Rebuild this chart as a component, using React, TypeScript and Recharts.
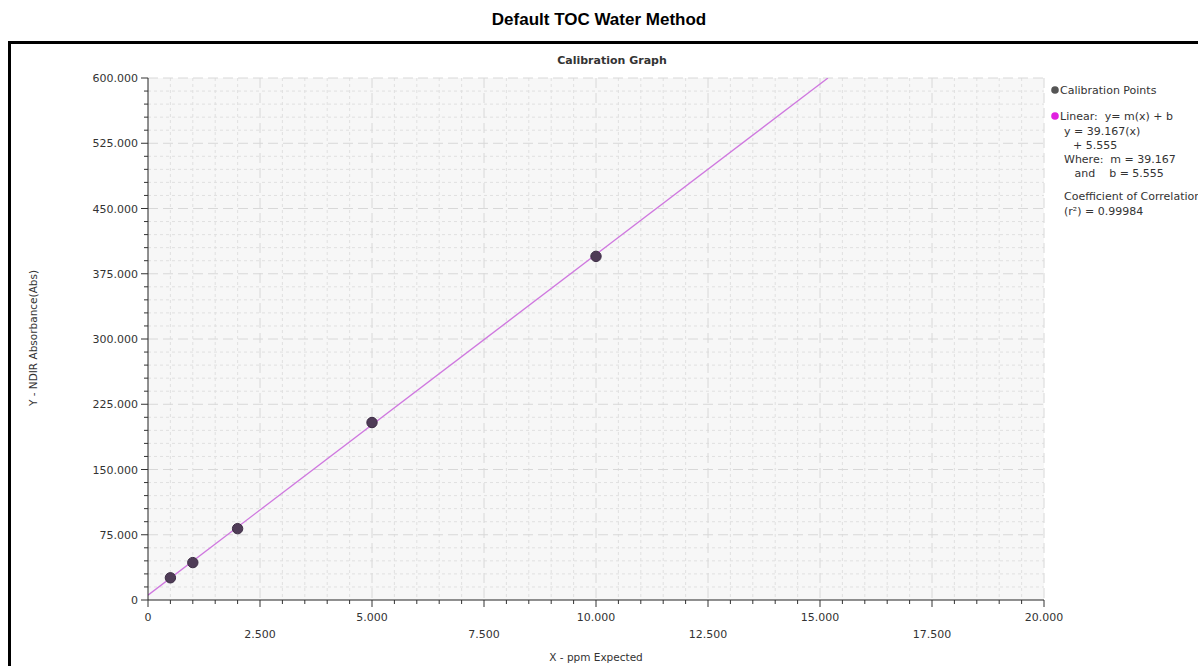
import React from 'react';
import {
  ComposedChart,
  Scatter,
  Line,
  XAxis,
  YAxis,
  CartesianGrid,
} from 'recharts';

// calibration standards
const pointX = [0.5, 1, 2, 5, 10];
const pointY = [25.5, 43, 82, 204, 395];

// fitted line y = 39.167x + 5.555, drawn to the top of the plot
const fitX = [0, 15.177];
const fitY = [5.555, 600];

const xMajorTicks = [0, 2.5, 5, 7.5, 10, 12.5, 15, 17.5, 20];
const yMajorTicks = [0, 75, 150, 225, 300, 375, 450, 525, 600];
const minorDivisions = 5;

const legendItems = [
  { text: 'Calibration Points', dot: '#555555', indent: 0 },
  { text: 'Linear:  y= m(x) + b', dot: '#e020e0', indent: 0 },
  { text: 'y = 39.167(x)', dot: null, indent: 4 },
  { text: '+ 5.555', dot: null, indent: 13 },
  { text: 'Where:  m = 39.167', dot: null, indent: 4 },
  { text: '   and    b = 5.555', dot: null, indent: 4 },
  { text: 'Coefficient of Correlation', dot: null, indent: 4 },
  { text: '(r²) = 0.99984', dot: null, indent: 4 },
];
const legendRows = [90, 116, 130.5, 145, 159, 173, 196, 210.5];

const withMinors = (majors: number[]) => {
  const out: number[] = [];
  majors.forEach((m, i) => {
    out.push(m);
    if (i < majors.length - 1) {
      const step = (majors[i + 1] - m) / minorDivisions;
      for (let k = 1; k < minorDivisions; k++) out.push(m + step * k);
    }
  });
  return out;
};

const xAllTicks = withMinors(xMajorTicks);
const yAllTicks = withMinors(yMajorTicks);
const xMinorTicks = xAllTicks.filter(v => !xMajorTicks.includes(v));
const yMinorTicks = yAllTicks.filter(v => !yMajorTicks.includes(v));

const pointData = pointX.map((x, i) => ({ x, y: pointY[i] }));
const fitData = fitX.map((x, i) => ({ x, y: fitY[i] }));

const fmt = (v: number) => (v === 0 ? '0' : v.toFixed(3));
const FONT = '"DejaVu Sans", Verdana, sans-serif';

const XTick = ({ x, y, payload }: any) => {
  const v = payload.value;
  const idx = xMajorTicks.indexOf(v);
  const major = idx >= 0;
  return (
    <g>
      <line x1={x} x2={x} y1={y} y2={y + (major ? 7 : 4)} stroke="#333" />
      {major && (
        <text
          x={x}
          y={idx % 2 === 0 ? 621 : 638}
          textAnchor="middle"
          fontSize={11}
          fontFamily={FONT}
          fill="#333"
        >
          {fmt(v)}
        </text>
      )}
    </g>
  );
};

const YTick = ({ x, y, payload }: any) => {
  const v = payload.value;
  const major = yMajorTicks.includes(v);
  return (
    <g>
      <line x1={x - (major ? 7 : 4)} x2={x} y1={y} y2={y} stroke="#333" />
      {major && (
        <text x={x - 10} y={y + 4} textAnchor="end" fontSize={11} fontFamily={FONT} fill="#333">
          {fmt(v)}
        </text>
      )}
    </g>
  );
};

const Dot = ({ cx, cy }: any) => (
  <circle cx={cx} cy={cy} r={5.2} fill="#4f3c57" stroke="#3c2c44" strokeWidth={1} />
);

export default function App() {
  return (
    <div
      style={{
        position: 'absolute',
        left: 0,
        top: 0,
        width: 1198,
        height: 666,
        background: '#fff',
        overflow: 'hidden',
      }}
    >
      <div
        style={{
          position: 'absolute',
          left: 0,
          top: 10,
          width: 1198,
          textAlign: 'center',
          fontFamily: '"Liberation Sans", Arial, sans-serif',
          fontWeight: 'bold',
          fontSize: 17,
          lineHeight: '20px',
          color: '#000',
        }}
      >
        Default TOC Water Method
      </div>
      <div
        style={{
          position: 'absolute',
          left: 8,
          top: 41,
          width: 1400,
          height: 800,
          borderLeft: '3px solid #000',
          borderTop: '3px solid #000',
        }}
      />
      <div style={{ position: 'absolute', left: 0, top: 0 }}>
        <ComposedChart width={1198} height={666} margin={{ top: 78, right: 154, bottom: 16, left: 8 }}>
          <CartesianGrid
            fill="#f7f7f7"
            stroke="#e0e0e0"
            strokeDasharray="3 3"
            verticalValues={xMinorTicks}
            horizontalValues={yMinorTicks}
          />
          <CartesianGrid
            fill="none"
            stroke="#d8d8d8"
            strokeDasharray="10 5"
            verticalValues={xMajorTicks.slice(1)}
            horizontalValues={yMajorTicks.slice(1)}
          />
          <XAxis
            type="number"
            dataKey="x"
            domain={[0, 20]}
            ticks={xAllTicks}
            interval={0}
            tickSize={0}
            tickMargin={0}
            tick={<XTick />}
            axisLine={{ stroke: '#222' }}
            height={50}
            allowDataOverflow
          />
          <YAxis
            type="number"
            dataKey="y"
            domain={[0, 600]}
            ticks={yAllTicks}
            interval={0}
            tickSize={0}
            tickMargin={0}
            tick={<YTick />}
            axisLine={{ stroke: '#222' }}
            width={140}
            allowDataOverflow
          />
          <Line
            data={fitData}
            dataKey="y"
            type="linear"
            stroke="#cf78df"
            strokeWidth={1.3}
            dot={false}
            activeDot={false}
            isAnimationActive={false}
          />
          <Scatter data={pointData} dataKey="y" shape={<Dot />} isAnimationActive={false} />
        </ComposedChart>
      </div>
      <svg
        width={1198}
        height={666}
        style={{ position: 'absolute', left: 0, top: 0, pointerEvents: 'none' }}
      >
        <text x={612} y={64} textAnchor="middle" fontFamily={FONT} fontWeight="bold" fontSize={11} fill="#333">
          Calibration Graph
        </text>
        <text
          x={0}
          y={0}
          transform="translate(37,338) rotate(-90)"
          textAnchor="middle"
          fontFamily={FONT}
          fontSize={10.5}
          fill="#333"
        >
          Y - NDIR Absorbance(Abs)
        </text>
        <text x={596} y={661} textAnchor="middle" fontFamily={FONT} fontSize={10.5} fill="#333">
          X - ppm Expected
        </text>
        {legendItems.map((item, i) => (
          <g key={i}>
            {item.dot && <circle cx={1055} cy={legendRows[i]} r={3.8} fill={item.dot} />}
            <text
              x={1060 + item.indent}
              y={legendRows[i] + 4}
              fontFamily={FONT}
              fontSize={11}
              fill="#333"
              style={{ whiteSpace: 'pre' }}
            >
              {item.text}
            </text>
          </g>
        ))}
      </svg>
    </div>
  );
}
